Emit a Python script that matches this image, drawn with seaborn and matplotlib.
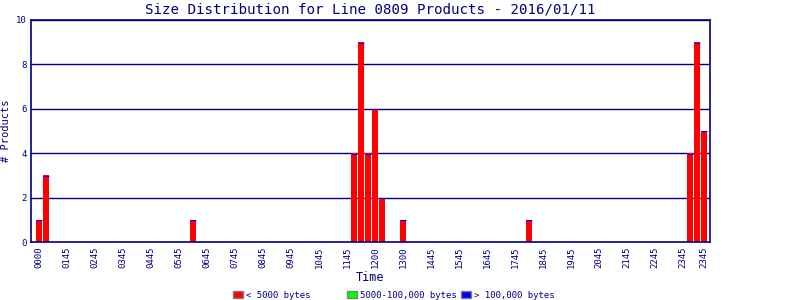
import matplotlib
matplotlib.use("Agg")
import matplotlib.pyplot as plt
import seaborn as sns
import pandas as pd
import numpy as np
from matplotlib.patches import Patch

# 15-minute bins across the day (0..95)
bins = list(range(96))
bar_bins = [0, 1, 22, 45, 46, 47, 48, 49, 52, 70, 93, 94, 95]
bar_small = [1, 3, 1, 4, 9, 4, 6, 2, 1, 1, 4, 9, 5]
tick_bins = list(range(0, 93, 4)) + [95]
tick_labels = ["0000", "0145", "0245", "0345", "0445", "0545", "0645", "0745",
               "0845", "0945", "1045", "1145", "1200", "1300", "1445", "1545",
               "1645", "1745", "1845", "1945", "2045", "2145", "2245", "2345", "2345"]
legend_labels = ["< 5000 bytes", "5000-100,000 bytes", "> 100,000 bytes"]
legend_colors = ["#ff0000", "#00ff00", "#0000ff"]
title = "Size Distribution for Line 0809 Products - 2016/01/11"

small = [0] * 96
for b, v in zip(bar_bins, bar_small):
    small[b] = v
df = pd.DataFrame({"bin": bins, "small": small})

sns.set_style("white")
plt.rcParams['font.family'] = ['DejaVu Sans Mono', 'DejaVu Sans']
navy = "#000080"

fig = plt.figure(figsize=(8, 3), dpi=100)
ax = fig.add_axes([31/800, 1 - 242/300, (710-31)/800, (242-20)/300])

ax.set_axisbelow(True)
for y in [2, 4, 6, 8, 10]:
    ax.axhline(y, color=navy, lw=1, zorder=0)

sns.barplot(data=df, x="bin", y="small", color="#ff0000", width=0.86,
            saturation=1, ax=ax, zorder=2, order=bins, linewidth=0, edgecolor="none")
# thin blue caps at bar tops
for p in ax.patches:
    h = p.get_height()
    if h > 0:
        ax.plot([p.get_x(), p.get_x() + p.get_width()], [h - 0.02, h - 0.02], color="#0000ff",
                lw=0.8, zorder=3, solid_capstyle="butt")

ax.set_xlim(-1.14, 95.86)
ax.set_ylim(0, 10)
ax.set_xticks(tick_bins)
ax.set_xticklabels(tick_labels, rotation=90, fontsize=6.5, color=navy)
ax.set_yticks([0, 2, 4, 6, 8, 10])
ax.set_yticklabels(["0", "2", "4", "6", "8", "10"], fontsize=6.5, color=navy)
ax.tick_params(length=0, pad=3)
for s in ax.spines.values():
    s.set_color(navy)
    s.set_linewidth(1.2)
ax.set_xlabel("Time", color=navy, fontsize=8.5, labelpad=6)
ax.set_ylabel("# Products", color=navy, fontsize=7.5, labelpad=4)
ax.xaxis.set_label_coords((370-31)/(710-31), (242-271)/(242-20))
ax.set_title(title, color=navy, fontsize=10.2, pad=5)

for i, (lab, col) in enumerate(zip(legend_labels, legend_colors)):
    leg = fig.legend([Patch(facecolor=col, edgecolor="#808080")], [lab],
                     loc="center left", bbox_to_anchor=((233 + 114 * i) / 800, 1 - 295 / 300),
                     frameon=False, fontsize=6.5, handlelength=1.1, handleheight=0.9,
                     handletextpad=0.3, borderaxespad=0, borderpad=0)
    for t in leg.get_texts():
        t.set_color(navy)

fig.savefig("out.png", dpi=100)
